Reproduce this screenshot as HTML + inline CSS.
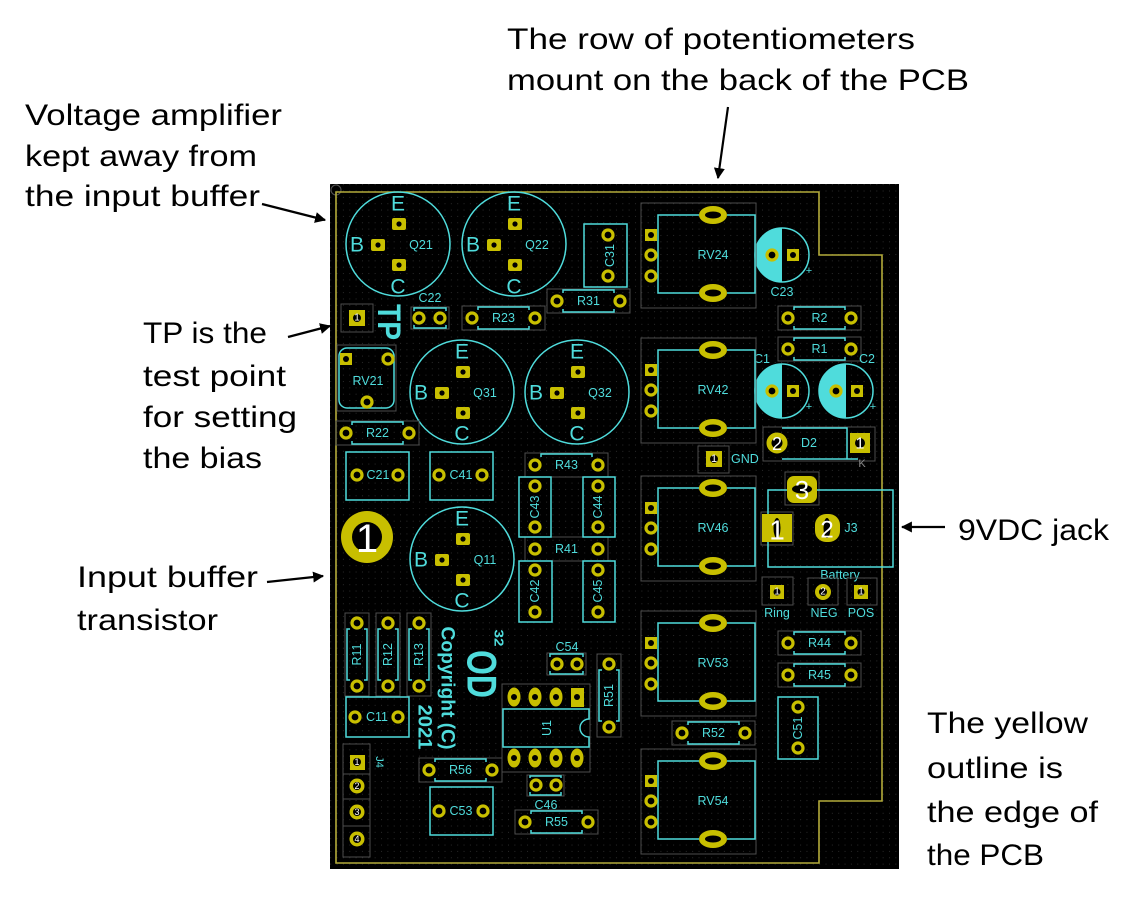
<!DOCTYPE html>
<html><head><meta charset="utf-8"><style>
html,body{margin:0;padding:0;background:#fff}
svg{display:block}
.py{fill:#c8bf00}
.pr{fill:#000;stroke:#c8bf00;stroke-width:3.2}
.h{fill:#000}
.cy{fill:none;stroke:#4fdcdc;stroke-width:1.5}
.cr{fill:none;stroke:#4d4d4d;stroke-width:1}
.l{fill:#4fdcdc;font-family:"Liberation Sans",sans-serif;font-size:12.5px;text-anchor:middle;dominant-baseline:central}
.e{font-size:21px}
.b{font-weight:bold}
.w{fill:#fff;font-family:"Liberation Sans",sans-serif;text-anchor:middle;dominant-baseline:central}
.a{fill:#000;font-family:"Liberation Sans",sans-serif;font-size:30px}
</style></head><body>
<svg width="1142" height="901" viewBox="0 0 1142 901" xmlns="http://www.w3.org/2000/svg">
<defs>
<pattern id="g" width="6.35" height="6.35" patternUnits="userSpaceOnUse"><rect width="1" height="1" fill="#2a2a2a"/></pattern>
<marker id="ah" viewBox="0 0 10 10" refX="9" refY="5" markerWidth="5" markerHeight="5" orient="auto" markerUnits="strokeWidth"><path d="M0,0 L10,5 L0,10 Z" fill="#000"/></marker>
</defs>
<rect width="1142" height="901" fill="#fff"/>

<!-- Annotations -->
<text class="a" x="507" y="49" textLength="408" lengthAdjust="spacingAndGlyphs">The row of potentiometers</text>
<text class="a" x="507" y="90" textLength="462" lengthAdjust="spacingAndGlyphs">mount on the back of the PCB</text>
<text class="a" x="25" y="125" textLength="257" lengthAdjust="spacingAndGlyphs">Voltage amplifier</text>
<text class="a" x="25" y="166" textLength="232" lengthAdjust="spacingAndGlyphs">kept away from</text>
<text class="a" x="25" y="206" textLength="235" lengthAdjust="spacingAndGlyphs">the input buffer</text>
<text class="a" x="143" y="343" textLength="124" lengthAdjust="spacingAndGlyphs">TP is the</text>
<text class="a" x="143" y="386" textLength="143" lengthAdjust="spacingAndGlyphs">test point</text>
<text class="a" x="143" y="427" textLength="154" lengthAdjust="spacingAndGlyphs">for setting</text>
<text class="a" x="143" y="468" textLength="119" lengthAdjust="spacingAndGlyphs">the bias</text>
<text class="a" x="77" y="587" textLength="181" lengthAdjust="spacingAndGlyphs">Input buffer</text>
<text class="a" x="77" y="630" textLength="141" lengthAdjust="spacingAndGlyphs">transistor</text>
<text class="a" x="958" y="540" textLength="151" lengthAdjust="spacingAndGlyphs">9VDC jack</text>
<text class="a" x="927" y="733" textLength="161" lengthAdjust="spacingAndGlyphs">The yellow</text>
<text class="a" x="927" y="778" textLength="136" lengthAdjust="spacingAndGlyphs">outline is</text>
<text class="a" x="927" y="822" textLength="171" lengthAdjust="spacingAndGlyphs">the edge of</text>
<text class="a" x="927" y="865" textLength="117" lengthAdjust="spacingAndGlyphs">the PCB</text>

<g stroke="#000" stroke-width="2.2" marker-end="url(#ah)">
<line x1="728" y1="107" x2="718" y2="178"/>
<line x1="262" y1="204" x2="325" y2="220"/>
<line x1="288" y1="337" x2="330" y2="326"/>
<line x1="267" y1="582" x2="323" y2="576"/>
<line x1="945" y1="527" x2="902" y2="527"/>
</g>

<!-- PCB -->
<rect x="330" y="184" width="569" height="685" fill="#000"/>
<rect x="330" y="184" width="569" height="685" fill="url(#g)"/>
<circle cx="336" cy="190" r="5" fill="none" stroke="#555" stroke-width="1"/>
<path d="M336 192H819V255H882V801H819V863H336Z" fill="none" stroke="#b3ab3a" stroke-width="1.6"/>

<!-- Transistors -->
<g>
<circle class="cy" cx="398" cy="244" r="52"/>
<text class="l e" x="398" y="204">E</text><text class="l e" x="398" y="287">C</text><text class="l e" x="357" y="245">B</text>
<rect class="py" x="392" y="218" width="14" height="12" rx="2"/><circle class="h" cx="399" cy="224" r="2.6"/>
<rect class="py" x="371" y="239" width="14" height="12" rx="2"/><circle class="h" cx="378" cy="245" r="2.6"/>
<rect class="py" x="392" y="259" width="14" height="12" rx="2"/><circle class="h" cx="399" cy="265" r="2.6"/>
<text class="l" x="421" y="245">Q21</text>
</g>
<g>
<circle class="cy" cx="514" cy="244" r="52"/>
<text class="l e" x="514" y="204">E</text><text class="l e" x="514" y="287">C</text><text class="l e" x="473" y="245">B</text>
<rect class="py" x="508" y="218" width="14" height="12" rx="2"/><circle class="h" cx="515" cy="224" r="2.6"/>
<rect class="py" x="487" y="239" width="14" height="12" rx="2"/><circle class="h" cx="494" cy="245" r="2.6"/>
<rect class="py" x="508" y="259" width="14" height="12" rx="2"/><circle class="h" cx="515" cy="265" r="2.6"/>
<text class="l" x="537" y="245">Q22</text>
</g>
<g>
<circle class="cy" cx="462" cy="392" r="52"/>
<text class="l e" x="462" y="352">E</text><text class="l e" x="462" y="434">C</text><text class="l e" x="421" y="393">B</text>
<rect class="py" x="456" y="366" width="14" height="12" rx="2"/><circle class="h" cx="463" cy="372" r="2.6"/>
<rect class="py" x="435" y="387" width="14" height="12" rx="2"/><circle class="h" cx="442" cy="393" r="2.6"/>
<rect class="py" x="456" y="407" width="14" height="12" rx="2"/><circle class="h" cx="463" cy="413" r="2.6"/>
<text class="l" x="485" y="393">Q31</text>
</g>
<g>
<circle class="cy" cx="577" cy="392" r="52"/>
<text class="l e" x="577" y="352">E</text><text class="l e" x="577" y="434">C</text><text class="l e" x="536" y="393">B</text>
<rect class="py" x="571" y="366" width="14" height="12" rx="2"/><circle class="h" cx="578" cy="372" r="2.6"/>
<rect class="py" x="550" y="387" width="14" height="12" rx="2"/><circle class="h" cx="557" cy="393" r="2.6"/>
<rect class="py" x="571" y="407" width="14" height="12" rx="2"/><circle class="h" cx="578" cy="413" r="2.6"/>
<text class="l" x="600" y="393">Q32</text>
</g>
<g>
<circle class="cy" cx="462" cy="559" r="52"/>
<text class="l e" x="462" y="519">E</text><text class="l e" x="462" y="601">C</text><text class="l e" x="421" y="560">B</text>
<rect class="py" x="456" y="533" width="14" height="12" rx="2"/><circle class="h" cx="463" cy="539" r="2.6"/>
<rect class="py" x="435" y="554" width="14" height="12" rx="2"/><circle class="h" cx="442" cy="560" r="2.6"/>
<rect class="py" x="456" y="574" width="14" height="12" rx="2"/><circle class="h" cx="463" cy="580" r="2.6"/>
<text class="l" x="485" y="560">Q11</text>
</g>

<!-- Horizontal resistors -->
<g>
<rect class="cr" x="462" y="306" width="83" height="24"/><path class="cy" d="M478 310V307H529V310M478 326V329H529V326"/>
<circle class="pr" cx="472" cy="318" r="5"/><circle class="pr" cx="535" cy="318" r="5"/><text class="l" x="503.5" y="318">R23</text>
<rect class="cr" x="547" y="289" width="83" height="24"/><path class="cy" d="M563 293V290H614V293M563 309V312H614V309"/>
<circle class="pr" cx="557" cy="301" r="5"/><circle class="pr" cx="620" cy="301" r="5"/><text class="l" x="588.5" y="301">R31</text>
<rect class="cr" x="336" y="421" width="83" height="24"/><path class="cy" d="M352 425V422H403V425M352 441V444H403V441"/>
<circle class="pr" cx="346" cy="433" r="5"/><circle class="pr" cx="409" cy="433" r="5"/><text class="l" x="377.5" y="433">R22</text>
<rect class="cr" x="778" y="306" width="83" height="24"/><path class="cy" d="M794 310V307H845V310M794 326V329H845V326"/>
<circle class="pr" cx="788" cy="318" r="5"/><circle class="pr" cx="851" cy="318" r="5"/><text class="l" x="819.5" y="318">R2</text>
<rect class="cr" x="778" y="337" width="83" height="24"/><path class="cy" d="M794 341V338H845V341M794 357V360H845V357"/>
<circle class="pr" cx="788" cy="349" r="5"/><circle class="pr" cx="851" cy="349" r="5"/><text class="l" x="819.5" y="349">R1</text>
<rect class="cr" x="778" y="631" width="83" height="24"/><path class="cy" d="M794 635V632H845V635M794 651V654H845V651"/>
<circle class="pr" cx="788" cy="643" r="5"/><circle class="pr" cx="851" cy="643" r="5"/><text class="l" x="819.5" y="643">R44</text>
<rect class="cr" x="778" y="663" width="83" height="24"/><path class="cy" d="M794 667V664H845V667M794 683V686H845V683"/>
<circle class="pr" cx="788" cy="675" r="5"/><circle class="pr" cx="851" cy="675" r="5"/><text class="l" x="819.5" y="675">R45</text>
<rect class="cr" x="525" y="453" width="83" height="24"/><path class="cy" d="M541 457V454H592V457"/>
<circle class="pr" cx="535" cy="465" r="5"/><circle class="pr" cx="598" cy="465" r="5"/><text class="l" x="566.5" y="465">R43</text>
<rect class="cr" x="525" y="537" width="83" height="24"/>
<circle class="pr" cx="535" cy="549" r="5"/><circle class="pr" cx="598" cy="549" r="5"/><text class="l" x="566.5" y="549">R41</text>
<rect class="cr" x="419" y="758" width="83" height="24"/><path class="cy" d="M435 762V759H486V762M435 778V781H486V778"/>
<circle class="pr" cx="429" cy="770" r="5"/><circle class="pr" cx="492" cy="770" r="5"/><text class="l" x="460.5" y="770">R56</text>
<rect class="cr" x="515" y="810" width="83" height="24"/><path class="cy" d="M531 814V811H582V814M531 830V833H582V830"/>
<circle class="pr" cx="525" cy="822" r="5"/><circle class="pr" cx="588" cy="822" r="5"/><text class="l" x="556.5" y="822">R55</text>
<rect class="cr" x="672" y="721" width="83" height="24"/><path class="cy" d="M688 725V722H739V725M688 741V744H739V741"/>
<circle class="pr" cx="682" cy="733" r="5"/><circle class="pr" cx="745" cy="733" r="5"/><text class="l" x="713.5" y="733">R52</text>
</g>

<!-- Vertical resistors -->
<g>
<rect class="cr" x="345" y="613" width="24" height="83"/><path class="cy" d="M350 629H347V680H350M364 629H367V680H364"/>
<circle class="pr" cx="357" cy="623" r="5"/><circle class="pr" cx="357" cy="686" r="5"/><text class="l" x="357" y="654.5" transform="rotate(-90 357 654.5)">R11</text>
<rect class="cr" x="376" y="613" width="24" height="83"/><path class="cy" d="M381 629H378V680H381M395 629H398V680H395"/>
<circle class="pr" cx="388" cy="623" r="5"/><circle class="pr" cx="388" cy="686" r="5"/><text class="l" x="388" y="654.5" transform="rotate(-90 388 654.5)">R12</text>
<rect class="cr" x="407" y="613" width="24" height="83"/><path class="cy" d="M412 629H409V680H412M426 629H429V680H426"/>
<circle class="pr" cx="419" cy="623" r="5"/><circle class="pr" cx="419" cy="686" r="5"/><text class="l" x="419" y="654.5" transform="rotate(-90 419 654.5)">R13</text>
<rect class="cr" x="597" y="654" width="24" height="83"/><path class="cy" d="M602 670H599V721H602M616 670H619V721H616"/>
<circle class="pr" cx="609" cy="664" r="5"/><circle class="pr" cx="609" cy="727" r="5"/><text class="l" x="609" y="695.5" transform="rotate(-90 609 695.5)">R51</text>
</g>

<!-- Capacitor boxes -->
<g>
<rect class="cy" x="346" y="452" width="63" height="48"/><circle class="pr" cx="357" cy="475" r="5"/><circle class="pr" cx="398" cy="475" r="5"/><text class="l" x="378" y="475">C21</text>
<rect class="cy" x="430" y="452" width="63" height="48"/><circle class="pr" cx="439" cy="475" r="5"/><circle class="pr" cx="482" cy="475" r="5"/><text class="l" x="461" y="475">C41</text>
<rect class="cy" x="346" y="697" width="63" height="40"/><circle class="pr" cx="355" cy="717" r="5"/><circle class="pr" cx="398" cy="717" r="5"/><text class="l" x="377" y="717">C11</text>
<rect class="cy" x="430" y="787" width="63" height="48"/><circle class="pr" cx="439" cy="811" r="5"/><circle class="pr" cx="483" cy="811" r="5"/><text class="l" x="461" y="811">C53</text>
<rect class="cy" x="584" y="224" width="43" height="63"/><circle class="pr" cx="608" cy="235" r="5"/><circle class="pr" cx="608" cy="276" r="5"/><text class="l" x="610" y="255.5" transform="rotate(-90 610 255.5)">C31</text>
<rect class="cy" x="519" y="477" width="32" height="60"/><circle class="pr" cx="535" cy="486" r="5"/><circle class="pr" cx="535" cy="527" r="5"/><text class="l" x="535" y="507" transform="rotate(-90 535 507)">C43</text>
<rect class="cy" x="583" y="477" width="32" height="60"/><circle class="pr" cx="598" cy="486" r="5"/><circle class="pr" cx="598" cy="527" r="5"/><text class="l" x="598" y="507" transform="rotate(-90 598 507)">C44</text>
<rect class="cy" x="519" y="561" width="33" height="61"/><circle class="pr" cx="535" cy="570" r="5"/><circle class="pr" cx="535" cy="612" r="5"/><text class="l" x="535" y="591" transform="rotate(-90 535 591)">C42</text>
<rect class="cy" x="583" y="561" width="32" height="61"/><circle class="pr" cx="598" cy="570" r="5"/><circle class="pr" cx="598" cy="612" r="5"/><text class="l" x="598" y="591" transform="rotate(-90 598 591)">C45</text>
<rect class="cy" x="778" y="697" width="40" height="62"/><circle class="pr" cx="798" cy="707" r="5"/><circle class="pr" cx="798" cy="748" r="5"/><text class="l" x="798" y="728" transform="rotate(-90 798 728)">C51</text>
</g>

<!-- Small caps -->
<g>
<rect class="cr" x="411" y="307" width="38" height="22"/><path class="cy" d="M414 311V308H446V311M414 325V328H446V325"/>
<circle class="pr" cx="419" cy="318" r="5"/><circle class="pr" cx="440" cy="318" r="5"/><text class="l" x="430" y="298">C22</text>
<rect class="cr" x="547" y="653" width="39" height="22"/><path class="cy" d="M550 657V654H583V657M550 671V674H583V671"/>
<circle class="pr" cx="557" cy="664" r="5"/><circle class="pr" cx="577" cy="664" r="5"/><text class="l" x="567" y="647">C54</text>
<rect class="cr" x="527" y="775" width="37" height="21"/><path class="cy" d="M530 778V776H561V778M530 792V795H561V792"/>
<circle class="pr" cx="536" cy="785" r="5"/><circle class="pr" cx="556" cy="785" r="5"/><text class="l" x="546" y="805">C46</text>
</g>

<!-- Electrolytic caps -->
<g>
<circle class="cy" cx="782" cy="255" r="27"/><path d="M782 228A27 27 0 0 0 782 282Z" fill="#4fdcdc"/>
<circle class="pr" cx="772" cy="255" r="5"/><rect class="py" x="787" y="249" width="12" height="12"/><circle class="h" cx="793" cy="255" r="3"/>
<text class="l" x="809" y="271" style="font-size:11px">+</text><text class="l" x="782" y="292">C23</text>
<circle class="cy" cx="782" cy="391" r="27"/><path d="M782 364A27 27 0 0 0 782 418Z" fill="#4fdcdc"/>
<circle class="pr" cx="772" cy="391" r="5"/><rect class="py" x="787" y="385" width="12" height="12"/><circle class="h" cx="793" cy="391" r="3"/>
<text class="l" x="809" y="407" style="font-size:11px">+</text><text class="l" x="762" y="359">C1</text>
<circle class="cy" cx="846" cy="391" r="27"/><path d="M846 364A27 27 0 0 0 846 418Z" fill="#4fdcdc"/>
<circle class="pr" cx="836" cy="391" r="5"/><rect class="py" x="851" y="385" width="12" height="12"/><circle class="h" cx="857" cy="391" r="3"/>
<text class="l" x="873" y="407" style="font-size:11px">+</text><text class="l" x="867" y="359">C2</text>
</g>

<!-- Potentiometers -->
<g>
<rect class="cr" x="641" y="203" width="115" height="105"/>
<path class="cy" d="M699 215H658V293H699M727 215H755V293H727"/>
<ellipse class="py" cx="713" cy="215" rx="14" ry="9"/><ellipse class="h" cx="713" cy="215" rx="8" ry="3.5"/>
<ellipse class="py" cx="713" cy="293" rx="14" ry="9"/><ellipse class="h" cx="713" cy="293" rx="8" ry="3.5"/>
<rect class="py" x="645" y="229" width="12" height="12"/><circle class="h" cx="651" cy="235" r="3"/>
<circle class="pr" cx="651" cy="255" r="5"/><circle class="pr" cx="651" cy="276" r="5"/>
<text class="l" x="713" y="255">RV24</text>
</g>
<g>
<rect class="cr" x="641" y="338" width="115" height="105"/>
<path class="cy" d="M699 350H658V428H699M727 350H755V428H727"/>
<ellipse class="py" cx="713" cy="350" rx="14" ry="9"/><ellipse class="h" cx="713" cy="350" rx="8" ry="3.5"/>
<ellipse class="py" cx="713" cy="428" rx="14" ry="9"/><ellipse class="h" cx="713" cy="428" rx="8" ry="3.5"/>
<rect class="py" x="645" y="364" width="12" height="12"/><circle class="h" cx="651" cy="370" r="3"/>
<circle class="pr" cx="651" cy="390" r="5"/><circle class="pr" cx="651" cy="411" r="5"/>
<text class="l" x="713" y="390">RV42</text>
</g>
<g>
<rect class="cr" x="641" y="476" width="115" height="105"/>
<path class="cy" d="M699 488H658V566H699M727 488H755V566H727"/>
<ellipse class="py" cx="713" cy="488" rx="14" ry="9"/><ellipse class="h" cx="713" cy="488" rx="8" ry="3.5"/>
<ellipse class="py" cx="713" cy="566" rx="14" ry="9"/><ellipse class="h" cx="713" cy="566" rx="8" ry="3.5"/>
<rect class="py" x="645" y="502" width="12" height="12"/><circle class="h" cx="651" cy="508" r="3"/>
<circle class="pr" cx="651" cy="528" r="5"/><circle class="pr" cx="651" cy="549" r="5"/>
<text class="l" x="713" y="528">RV46</text>
</g>
<g>
<rect class="cr" x="641" y="611" width="115" height="105"/>
<path class="cy" d="M699 623H658V701H699M727 623H755V701H727"/>
<ellipse class="py" cx="713" cy="623" rx="14" ry="9"/><ellipse class="h" cx="713" cy="623" rx="8" ry="3.5"/>
<ellipse class="py" cx="713" cy="701" rx="14" ry="9"/><ellipse class="h" cx="713" cy="701" rx="8" ry="3.5"/>
<rect class="py" x="645" y="637" width="12" height="12"/><circle class="h" cx="651" cy="643" r="3"/>
<circle class="pr" cx="651" cy="663" r="5"/><circle class="pr" cx="651" cy="684" r="5"/>
<text class="l" x="713" y="663">RV53</text>
</g>
<g>
<rect class="cr" x="641" y="749" width="115" height="105"/>
<path class="cy" d="M699 761H658V839H699M727 761H755V839H727"/>
<ellipse class="py" cx="713" cy="761" rx="14" ry="9"/><ellipse class="h" cx="713" cy="761" rx="8" ry="3.5"/>
<ellipse class="py" cx="713" cy="839" rx="14" ry="9"/><ellipse class="h" cx="713" cy="839" rx="8" ry="3.5"/>
<rect class="py" x="645" y="775" width="12" height="12"/><circle class="h" cx="651" cy="781" r="3"/>
<circle class="pr" cx="651" cy="801" r="5"/><circle class="pr" cx="651" cy="822" r="5"/>
<text class="l" x="713" y="801">RV54</text>
</g>

<!-- RV21 trimmer -->
<g>
<rect class="cr" x="337" y="345" width="59" height="66"/>
<rect class="cy" x="339" y="348" width="55" height="60" rx="8"/>
<rect class="py" x="340" y="353" width="12" height="12"/><circle class="h" cx="346" cy="359" r="3"/>
<circle class="pr" cx="388" cy="359" r="5"/><circle class="pr" cx="367" cy="402" r="5"/>
<text class="l" x="368" y="381">RV21</text>
</g>

<!-- TP -->
<g>
<rect class="cr" x="341" y="304" width="32" height="28"/>
<rect class="py" x="349" y="310" width="16" height="16"/><circle class="h" cx="357" cy="318" r="4"/>
<text class="w" x="357" y="318" style="font-size:10px">1</text>
<text class="l b" x="389" y="322" style="font-size:32px" textLength="36" lengthAdjust="spacingAndGlyphs" transform="rotate(90 389 322)">TP</text>
</g>

<!-- Big pad 1 -->
<circle cx="367" cy="537" r="26" fill="#c8bf00"/><circle cx="367" cy="537" r="15" fill="#000"/>
<text class="w" x="367" y="539" style="font-size:40px">1</text>

<!-- Copyright & OD -->
<text class="l b" x="447" y="688" style="font-size:19px" textLength="123" lengthAdjust="spacingAndGlyphs" transform="rotate(90 447 688)">Copyright (C)</text>
<text class="l b" x="424" y="727" style="font-size:19px" textLength="45" lengthAdjust="spacingAndGlyphs" transform="rotate(90 424 727)">2021</text>
<text class="l b" x="482" y="674" style="font-size:42px" textLength="48" lengthAdjust="spacingAndGlyphs" transform="rotate(90 482 674)">OD</text>
<text class="l b" x="499" y="638" style="font-size:13px" textLength="17" lengthAdjust="spacingAndGlyphs" transform="rotate(90 499 638)">32</text>

<!-- U1 -->
<g>
<rect class="cr" x="502" y="684" width="88" height="88"/>
<path class="cy" d="M503 709H589V719A9 9 0 0 0 589 737V747H503Z"/>
<ellipse class="py" cx="514" cy="697" rx="6.5" ry="9.5"/><circle class="h" cx="514" cy="697" r="3"/>
<ellipse class="py" cx="535" cy="697" rx="6.5" ry="9.5"/><circle class="h" cx="535" cy="697" r="3"/>
<ellipse class="py" cx="556" cy="697" rx="6.5" ry="9.5"/><circle class="h" cx="556" cy="697" r="3"/>
<rect class="py" x="571" y="688" width="13" height="19"/><circle class="h" cx="577" cy="697" r="3"/>
<ellipse class="py" cx="514" cy="758" rx="6.5" ry="9.5"/><circle class="h" cx="514" cy="758" r="3"/>
<ellipse class="py" cx="535" cy="758" rx="6.5" ry="9.5"/><circle class="h" cx="535" cy="758" r="3"/>
<ellipse class="py" cx="556" cy="758" rx="6.5" ry="9.5"/><circle class="h" cx="556" cy="758" r="3"/>
<ellipse class="py" cx="577" cy="758" rx="6.5" ry="9.5"/><circle class="h" cx="577" cy="758" r="3"/>
<text class="l" x="547" y="728" transform="rotate(-90 547 728)">U1</text>
</g>

<!-- J4 -->
<g>
<rect class="cr" x="343" y="744" width="27" height="113"/>
<path d="M343 774H370M343 799H370M343 826H370" stroke="#4d4d4d" stroke-width="1"/>
<rect class="py" x="350" y="755" width="15" height="15"/><circle class="h" cx="357" cy="762" r="4"/><text class="w" x="357" y="762" style="font-size:9px">1</text>
<circle cx="357" cy="786" r="7.5" fill="#c8bf00"/><circle class="h" cx="357" cy="786" r="4"/><text class="w" x="357" y="786" style="font-size:9px">2</text>
<circle cx="357" cy="812" r="7.5" fill="#c8bf00"/><circle class="h" cx="357" cy="812" r="4"/><text class="w" x="357" y="812" style="font-size:9px">3</text>
<circle cx="357" cy="839" r="7.5" fill="#c8bf00"/><circle class="h" cx="357" cy="839" r="4"/><text class="w" x="357" y="839" style="font-size:9px">4</text>
<text class="l" x="379" y="762" style="font-size:11px" transform="rotate(90 379 762)">J4</text>
</g>

<!-- D2 -->
<g>
<rect class="cr" x="763" y="427" width="112" height="34"/>
<path class="cy" d="M782 428H847V459M782 459H858"/>
<circle cx="777" cy="443" r="8" fill="#000" stroke="#c8bf00" stroke-width="5"/>
<text class="w" x="777" y="444" style="font-size:18px">2</text>
<rect class="py" x="850" y="433" width="20" height="20"/><circle class="h" cx="860" cy="443" r="5"/>
<text class="w" x="860" y="444" style="font-size:16px">1</text>
<text class="l" x="809" y="443">D2</text>
<text class="l" x="862" y="464" style="font-size:11px;fill:#8a8a8a">K</text>
</g>

<!-- GND -->
<g>
<rect class="cr" x="698" y="446" width="31" height="27"/>
<rect class="py" x="706" y="451" width="16" height="16"/><circle class="h" cx="714" cy="459" r="4"/>
<text class="w" x="714" y="459" style="font-size:11px">1</text>
<text class="l" x="731" y="459" style="text-anchor:start">GND</text>
</g>

<!-- J3 -->
<g>
<rect class="cr" x="785" y="472" width="34" height="33"/>
<rect class="cr" x="761" y="512" width="32" height="33"/>
<rect class="cy" x="768" y="490" width="125" height="77"/>
<rect class="py" x="787" y="476" width="30" height="27" rx="7"/><ellipse class="h" cx="802" cy="489" rx="10" ry="4.5"/>
<text class="w" x="802" y="490" style="font-size:26px">3</text>
<rect class="py" x="762" y="514" width="30" height="28"/><ellipse class="h" cx="777" cy="528" rx="3.5" ry="10"/>
<text class="w" x="777" y="530" style="font-size:28px">1</text>
<rect class="py" x="815" y="514" width="25" height="28" rx="11"/><ellipse class="h" cx="827" cy="528" rx="3.5" ry="10"/>
<text class="w" x="827" y="530" style="font-size:24px">2</text>
<text class="l" x="851" y="528">J3</text>
<text class="l" x="840" y="575">Battery</text>
</g>

<!-- Ring / NEG / POS -->
<g>
<rect class="cr" x="762" y="577" width="31" height="28"/>
<rect class="py" x="770" y="585" width="14" height="14"/><circle class="h" cx="777" cy="592" r="3.5"/><text class="w" x="777" y="592" style="font-size:10px">1</text>
<text class="l" x="777" y="613">Ring</text>
<rect class="cr" x="808" y="578" width="30" height="27"/>
<circle cx="823" cy="592" r="6" fill="#000" stroke="#c8bf00" stroke-width="4"/><text class="w" x="823" y="592" style="font-size:10px">2</text>
<text class="l" x="824" y="613">NEG</text>
<rect class="cr" x="847" y="578" width="30" height="27"/>
<rect class="py" x="854" y="585" width="14" height="14"/><circle class="h" cx="861" cy="592" r="3.5"/><text class="w" x="861" y="592" style="font-size:10px">1</text>
<text class="l" x="861" y="613">POS</text>
</g>
</svg>
</body></html>
